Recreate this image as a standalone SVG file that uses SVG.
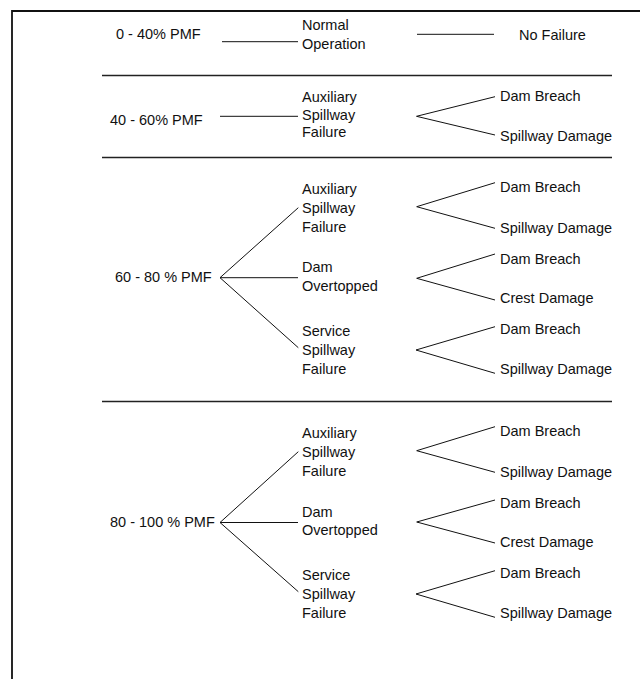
<svg xmlns="http://www.w3.org/2000/svg" width="640" height="679" viewBox="0 0 640 679">
<style>
text{font-family:"Liberation Sans",Arial,sans-serif;font-size:14.5px;fill:#111}
.c line,.c polyline{stroke:#111;stroke-width:1;fill:none}
.sep{stroke:#222;stroke-width:1.3}
.frame{stroke:#111;stroke-width:1.8;fill:none}
</style>
<rect width="640" height="679" fill="#fff"/>
<polyline class="frame" points="12,679 12,11 640,11"/>
<g id="separators">
<line class="sep" x1="102" y1="75.5" x2="612" y2="75.5"/>
<line class="sep" x1="102" y1="157.5" x2="612" y2="157.5"/>
<line class="sep" x1="102" y1="401.5" x2="612" y2="401.5"/>
</g>
<g class="c" id="connectors">
<line x1="222" y1="41.7" x2="298" y2="41.7"/>
<line x1="417" y1="34.3" x2="494" y2="34.3"/>
<line x1="220" y1="116.3" x2="298" y2="116.3"/>
<polyline points="495,96.7 416.5,116.3 495,135"/>
<polyline points="298.3,207.7 220,277.7 298.3,347.7"/>
<line x1="220" y1="277.7" x2="298" y2="277.7"/>
<polyline points="495,182.7 416.7,206.7 495,228.3"/>
<polyline points="495,254 416.7,278.3 495,300"/>
<polyline points="495,326.7 416,350 495,373.3"/>
<polyline points="298.3,451.7 220,522.5 298.3,591.7"/>
<line x1="220" y1="522.5" x2="298" y2="522.5"/>
<polyline points="495,426.7 416.7,450.7 495,472.3"/>
<polyline points="495,500 416.7,522 495,543"/>
<polyline points="495,570.7 416,594 495,617.3"/>
</g>
<g id="pmf-0-40"><text x="116" y="38.5">0 - 40% PMF</text></g>
<g id="pmf-40-60"><text x="110" y="124.5">40 - 60% PMF</text></g>
<g id="pmf-60-80"><text x="115" y="282">60 - 80 % PMF</text></g>
<g id="pmf-80-100"><text x="110" y="527">80 - 100 % PMF</text></g>
<g id="normal-operation"><text x="302" y="29.5">Normal</text><text x="302" y="48.5">Operation</text></g>
<g id="no-failure"><text x="519" y="39.5">No Failure</text></g>
<g id="aux-1"><text x="302" y="101.5">Auxiliary</text><text x="302" y="119.5">Spillway</text><text x="302" y="137">Failure</text></g>
<g id="r2-breach"><text x="500" y="100.5">Dam Breach</text></g>
<g id="r2-damage"><text x="500" y="140.5">Spillway Damage</text></g>
<g id="aux-2"><text x="302" y="193.5">Auxiliary</text><text x="302" y="212.5">Spillway</text><text x="302" y="231.5">Failure</text></g>
<g id="dam-2"><text x="302" y="272">Dam</text><text x="302" y="290.5">Overtopped</text></g>
<g id="svc-2"><text x="302" y="335.5">Service</text><text x="302" y="355">Spillway</text><text x="302" y="374">Failure</text></g>
<g id="r3-a1"><text x="500" y="191.5">Dam Breach</text></g>
<g id="r3-a2"><text x="500" y="232.5">Spillway Damage</text></g>
<g id="r3-b1"><text x="500" y="263.5">Dam Breach</text></g>
<g id="r3-b2"><text x="500" y="302.5">Crest Damage</text></g>
<g id="r3-c1"><text x="500" y="333.5">Dam Breach</text></g>
<g id="r3-c2"><text x="500" y="373.5">Spillway Damage</text></g>
<g id="aux-3"><text x="302" y="437.5">Auxiliary</text><text x="302" y="456.5">Spillway</text><text x="302" y="475.5">Failure</text></g>
<g id="dam-3"><text x="302" y="516.5">Dam</text><text x="302" y="535">Overtopped</text></g>
<g id="svc-3"><text x="302" y="579.5">Service</text><text x="302" y="599">Spillway</text><text x="302" y="618">Failure</text></g>
<g id="r4-a1"><text x="500" y="435.5">Dam Breach</text></g>
<g id="r4-a2"><text x="500" y="476.5">Spillway Damage</text></g>
<g id="r4-b1"><text x="500" y="507.5">Dam Breach</text></g>
<g id="r4-b2"><text x="500" y="546.5">Crest Damage</text></g>
<g id="r4-c1"><text x="500" y="577.5">Dam Breach</text></g>
<g id="r4-c2"><text x="500" y="617.5">Spillway Damage</text></g>
</svg>
